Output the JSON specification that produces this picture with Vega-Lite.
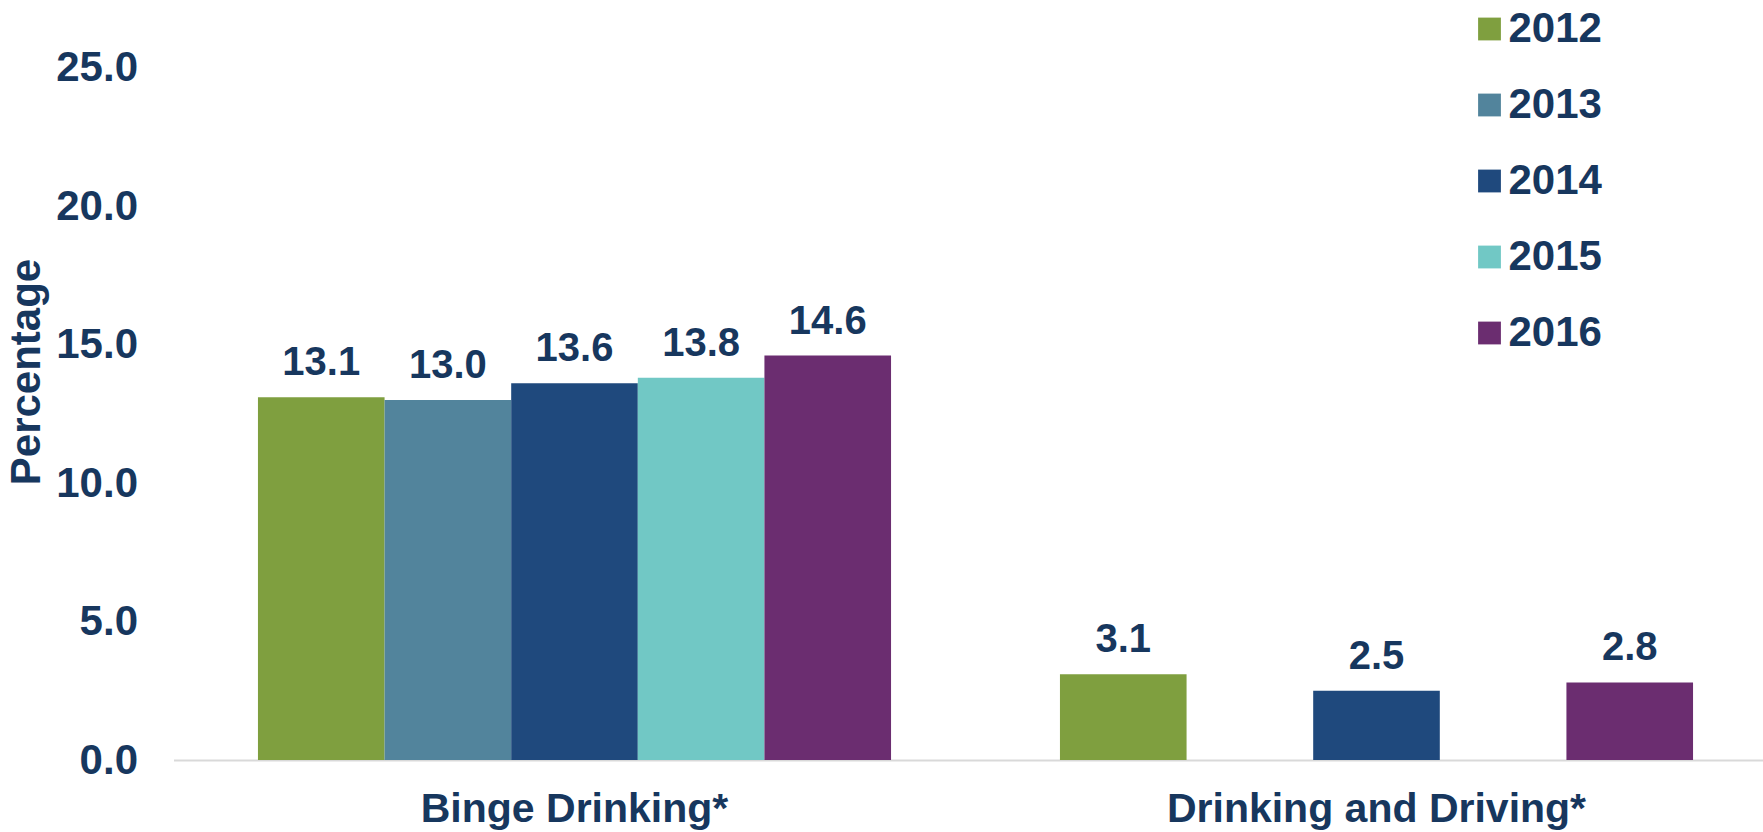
{
  "$schema": "https://vega.github.io/schema/vega-lite/v6.json",
  "width": 1589.5,
  "height": 692.5,
  "autosize": {"type": "none"},
  "padding": {"left": 173.5, "top": 67.5, "right": 0, "bottom": 72},
  "background": "white",
  "config": {
    "view": {"stroke": null},
    "font": "Liberation Sans",
    "text": {"font": "Liberation Sans"}
  },
  "data": {
    "values": [
      {"measure": "Binge Drinking*", "year": "2012", "value": 13.1},
      {"measure": "Binge Drinking*", "year": "2013", "value": 13.0},
      {"measure": "Binge Drinking*", "year": "2014", "value": 13.6},
      {"measure": "Binge Drinking*", "year": "2015", "value": 13.8},
      {"measure": "Binge Drinking*", "year": "2016", "value": 14.6},
      {"measure": "Drinking and Driving*", "year": "2012", "value": 3.1},
      {"measure": "Drinking and Driving*", "year": "2014", "value": 2.5},
      {"measure": "Drinking and Driving*", "year": "2016", "value": 2.8}
    ]
  },
  "encoding": {
    "x": {
      "field": "measure",
      "type": "nominal",
      "sort": ["Binge Drinking*", "Drinking and Driving*"],
      "scale": {"type": "band", "paddingInner": 0, "paddingOuter": 0, "range": [0, 1604]},
      "axis": {
        "title": null,
        "labelAngle": 0,
        "labelLimit": 0,
        "ticks": false,
        "tickSize": 0,
        "labelPadding": 61,
        "labelBaseline": "alphabetic",
        "labelFont": "Liberation Sans",
        "labelFontSize": 41,
        "labelFontWeight": "bold",
        "labelColor": "#17375E",
        "domainColor": "#D9D9D9",
        "domainWidth": 2,
        "grid": false
      }
    },
    "xOffset": {
      "field": "year",
      "type": "nominal",
      "sort": ["2012", "2013", "2014", "2015", "2016"],
      "scale": {"domain": ["2012", "2013", "2014", "2015", "2016"], "paddingInner": 0, "paddingOuter": 0.667}
    },
    "y": {
      "field": "value",
      "type": "quantitative",
      "scale": {"domain": [0, 25], "nice": false},
      "axis": {
        "title": "Percentage",
        "titleFont": "Liberation Sans",
        "titleFontSize": 42,
        "titleFontWeight": "bold",
        "titleColor": "#17375E",
        "titleX": -134,
        "titleY": 304,
        "titleAngle": -90,
        "titleAlign": "center",
        "titleBaseline": "alphabetic",
        "values": [0, 5, 10, 15, 20, 25],
        "format": ".1f",
        "labelFont": "Liberation Sans",
        "labelFontSize": 42,
        "labelFontWeight": "bold",
        "labelColor": "#17375E",
        "labelPadding": 36,
        "ticks": false,
        "tickSize": 0,
        "domain": false,
        "grid": false
      }
    }
  },
  "layer": [
    {
      "mark": {"type": "bar"},
      "encoding": {
        "color": {
          "field": "year",
          "type": "nominal",
          "scale": {
            "domain": ["2012", "2013", "2014", "2015", "2016"],
            "range": ["#7F9F3F", "#52849C", "#1F497D", "#71C8C5", "#6B2D70"]
          },
          "legend": {
            "title": null,
            "orient": "none",
            "legendX": 1295,
            "legendY": -59.5,
            "padding": 0,
            "symbolType": "square",
            "symbolSize": 520,
            "symbolStrokeWidth": 0,
            "symbolOpacity": 1,
            "labelFont": "Liberation Sans",
            "labelFontSize": 42,
            "labelFontWeight": "bold",
            "labelColor": "#17375E",
            "labelOffset": -2,
            "rowPadding": 34
          }
        }
      }
    },
    {
      "mark": {
        "type": "text",
        "baseline": "alphabetic",
        "dy": -22,
        "font": "Liberation Sans",
        "fontSize": 40,
        "fontWeight": "bold",
        "color": "#17375E"
      },
      "encoding": {
        "text": {"field": "value", "type": "quantitative", "format": ".1f"}
      }
    }
  ]
}
